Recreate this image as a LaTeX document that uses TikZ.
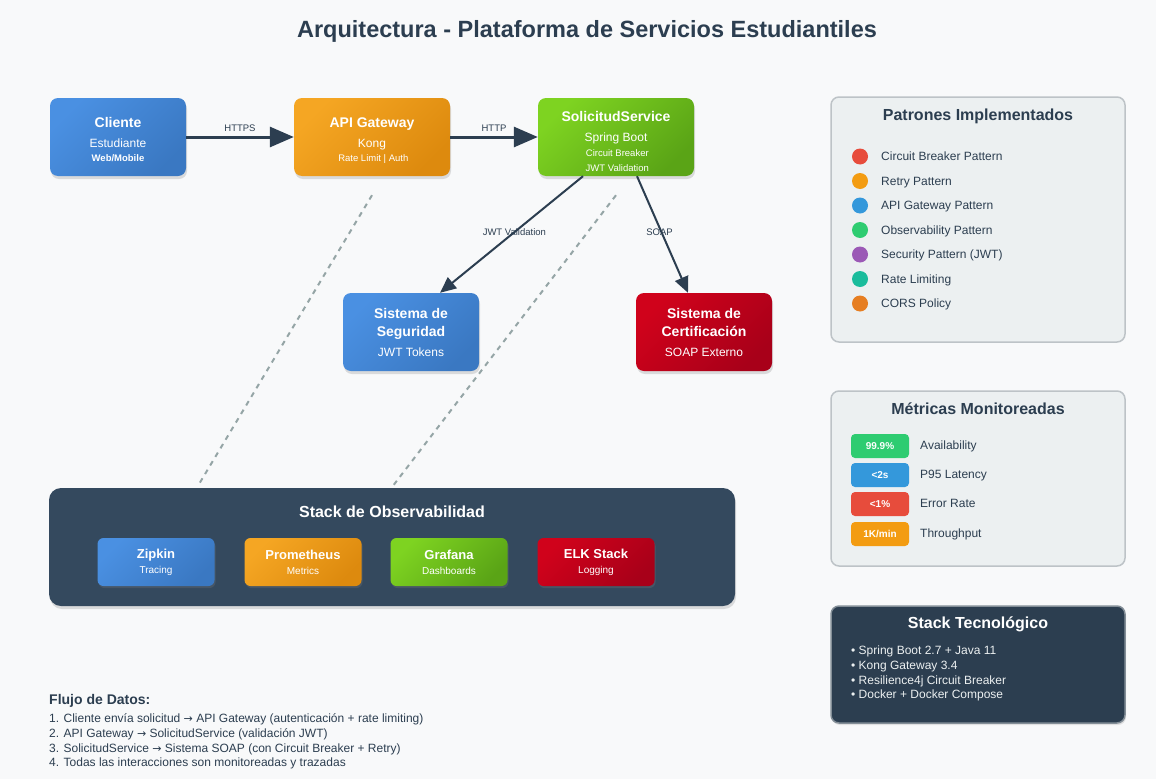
\documentclass[tikz,border=0pt]{standalone}
\usepackage{fontspec}
\setmainfont{Liberation Sans}
\newfontfamily\simbolos{DejaVu Sans}
\usetikzlibrary{arrows.meta,shadows,positioning}
\definecolor{fondo}{HTML}{F8F9FA}
\definecolor{oscuro}{HTML}{2C3E50}
\definecolor{pizarra}{HTML}{34495E}
\definecolor{azulA}{HTML}{4A90E2}
\definecolor{azulB}{HTML}{3A78C2}
\definecolor{naranjaA}{HTML}{F5A623}
\definecolor{naranjaB}{HTML}{DD8A0E}
\definecolor{verdeA}{HTML}{7ED321}
\definecolor{verdeB}{HTML}{5AA416}
\definecolor{rojoA}{HTML}{D0021B}
\definecolor{rojoB}{HTML}{A80019}
\definecolor{gris}{HTML}{95A5A6}
\definecolor{panel}{HTML}{ECF0F1}
\definecolor{borde}{HTML}{BDC3C7}
\newcommand\fs[2]{\fontsize{#1}{#2}\selectfont}
\newcommand\hueco[1]{\mbox{}\\[#1]}
\newcommand\flechatxt{{\simbolos\fs{11}{14}→}}
\begin{document}
\begin{tikzpicture}[x=1pt, y=-1pt,
    grad/.style={top color=#1A, bottom color=#1B, shading angle=45},
    caja/.style={rounded corners=8pt, minimum width=156pt, minimum height=78pt,
        inner sep=0pt, text=white, align=center, font=\fs{12}{15},
        drop shadow={shadow xshift=1pt, shadow yshift=-3pt, opacity=0.25}},
    mini/.style={rounded corners=6pt, minimum width=117pt, minimum height=48pt,
        inner sep=0pt, text=white, align=center, font=\fs{10}{12},
        drop shadow={shadow xshift=1pt, shadow yshift=-2pt, opacity=0.25}},
    panelbox/.style={rounded corners=8pt, draw=borde, line width=1.5pt, fill=panel,
        minimum width=294pt, inner sep=0pt},
    flecha/.style={oscuro, line width=3pt, -{Triangle[length=24pt, width=20pt]}},
    flechita/.style={oscuro, line width=2pt, -{Triangle[length=16pt, width=14pt]}},
    etiq/.style={text=oscuro, font=\fs{9.5}{11}, inner sep=1pt},
    punteada/.style={gris, line width=2pt, dash pattern=on 5pt off 5pt},
    texto/.style={anchor=base west, inner sep=0pt, text=oscuro, font=\fs{12}{14}},
    badge/.style={rounded corners=4pt, minimum width=58pt, minimum height=24pt,
        inner sep=0pt, text=white, font=\fs{10}{12}\bfseries}]
    % Fondo
    \fill[fondo] (0,0) rectangle (1156,779);
    \useasboundingbox (0,0) rectangle (1156,779);

    % Titulo
    \node[text=oscuro, font=\fs{23.5}{28}\bfseries] (titulo) at (587,31)
        {Arquitectura - Plataforma de Servicios Estudiantiles};

    % Componentes principales
    \node[caja, grad=azul, minimum width=136pt] (cliente) at (118,137)
        {\hueco{1pt}{\fs{14}{17}\bfseries Cliente}\\[5pt] Estudiante\\[-1pt] {\fs{9.5}{11}\bfseries Web/Mobile}};
    \node[caja, grad=naranja] (gateway) at (372,137)
        {\hueco{3pt}{\fs{14}{17}\bfseries API Gateway}\\[5pt] Kong\\[-1pt] {\fs{9.5}{11} Rate Limit | Auth}};
    \node[caja, grad=verde] (servicio) at (616,137)
        {\hueco{5pt}{\fs{14}{17}\bfseries SolicitudService}\\[5pt] Spring Boot\\[0pt]
         {\fs{9.5}{11} Circuit Breaker}\\[0pt] {\fs{9.5}{11} JWT Validation}};
    \node[caja, grad=azul, minimum width=136pt] (seguridad) at (411,332)
        {{\fs{14}{17}\bfseries Sistema de}\\[3pt] {\fs{14}{17}\bfseries Seguridad}\\[5pt] JWT Tokens};
    \node[caja, grad=rojo, minimum width=136pt] (certif) at (704,332)
        {{\fs{14}{17}\bfseries Sistema de}\\[3pt] {\fs{14}{17}\bfseries Certificación}\\[5pt] SOAP Externo};

    % Flechas
    \draw[flecha] (cliente) -- node[etiq, above=3pt] {HTTPS} (gateway);
    \draw[flecha] (gateway) -- node[etiq, above=3pt] {HTTP} (servicio);
    \draw[flechita] ([xshift=-33pt]servicio.south) -- node[etiq, pos=0.48] {JWT Validation}
        ([xshift=29pt]seguridad.north);
    \draw[flechita] ([xshift=21pt]servicio.south) -- node[etiq, pos=0.48, xshift=-2pt] {SOAP}
        ([xshift=-16pt]certif.north);

    % Stack de observabilidad
    \node[rounded corners=12pt, fill=pizarra, minimum width=686pt, minimum height=118pt,
        drop shadow={shadow xshift=1pt, shadow yshift=-3pt, opacity=0.25}] (obs) at (392,547) {};
    \node[text=white, font=\fs{16}{19}\bfseries] (obstitulo) at (392,512) {Stack de Observabilidad};
    \foreach \nom/\sub/\col/\x [count=\i] in {Zipkin/Tracing/azul/156, Prometheus/Metrics/naranja/303,
        Grafana/Dashboards/verde/449, ELK Stack/Logging/rojo/596}
        \node[mini, grad=\col] (herr\i) at (\x,562) {{\fs{13}{15}\bfseries \nom}\\[3pt] \sub};

    % Lineas punteadas
    \coordinate (obsA) at ([xshift=-194pt, yshift=2pt]obs.north);
    \coordinate (obsB) at ([xshift=1pt, yshift=2pt]obs.north);
    \draw[punteada] ([yshift=-19pt]gateway.south) -- (obsA);
    \draw[punteada] ([yshift=-19pt]servicio.south) -- (obsB);

    % Patrones implementados
    \node[panelbox, minimum height=245pt] (patrones) at (978,219.5) {};
    \node[text=oscuro, font=\fs{16}{19}\bfseries] (patitulo) at (978,116) {Patrones Implementados};
    \foreach \col/\txt [count=\i] in {E74C3C/Circuit Breaker Pattern, F39C12/Retry Pattern,
        3498DB/API Gateway Pattern, 2ECC71/Observability Pattern, 9B59B6/Security Pattern (JWT),
        1ABC9C/Rate Limiting, E67E22/CORS Policy} {
        \definecolor{punto}{HTML}{\col}
        \node[circle, fill=punto, minimum size=16pt, inner sep=0pt] (pat\i) at (860,132+24.5*\i) {};
        \node[texto] (pattxt\i) at (881,136.3+24.5*\i) {\txt};
    }

    % Metricas monitoreadas
    \node[panelbox, minimum height=175pt] (metricas) at (978,478.5) {};
    \node[text=oscuro, font=\fs{16}{19}\bfseries] (metitulo) at (978,409) {Métricas Monitoreadas};
    \foreach \col/\val/\txt/\y [count=\i] in {2ECC71/99.9\%/Availability/446, 3498DB/<2s/P95 Latency/475,
        E74C3C/<1\%/Error Rate/504, F39C12/1K\slash min/Throughput/534} {
        \definecolor{insignia}{HTML}{\col}
        \node[badge, fill=insignia] (met\i) at (880,\y) {\val};
        \node[texto] (mettxt\i) at (920,\y+3.3) {\txt};
    }

    % Stack tecnologico
    \node[panelbox, fill=oscuro, draw=borde!60!oscuro, minimum height=117pt,
        drop shadow={shadow xshift=1pt, shadow yshift=-2pt, opacity=0.2}] (tecno) at (978,664.5) {};
    \node[text=white, font=\fs{16}{19}\bfseries] (tectitulo) at (978,624) {Stack Tecnológico};
    \foreach \txt/\y [count=\i] in {Spring Boot 2.7 + Java 11/650, Kong Gateway 3.4/665,
        Resilience4j Circuit Breaker/680, Docker + Docker Compose/694}
        \node[texto, text=panel] (tec\i) at (851,\y+4.3) {• \txt};

    % Flujo de datos
    \node[texto, font=\fs{14}{17}\bfseries] (flujo) at (49,704) {Flujo de Datos:};
    \foreach \txt/\y [count=\i] in {
        {1. Cliente envía solicitud \flechatxt{} API Gateway (autenticación + rate limiting)}/718,
        {2. API Gateway \flechatxt{} SolicitudService (validación JWT)}/733,
        {3. SolicitudService \flechatxt{} Sistema SOAP (con Circuit Breaker + Retry)}/748,
        {4. Todas las interacciones son monitoreadas y trazadas}/762}
        \node[texto] (paso\i) at (49,\y+4.3) {\txt};
\end{tikzpicture}
\end{document}
